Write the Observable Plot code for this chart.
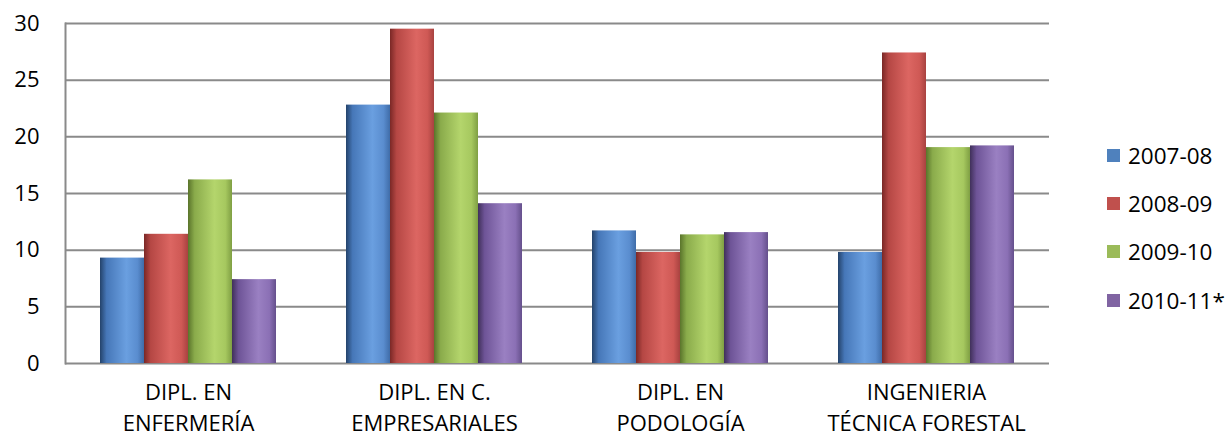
<!DOCTYPE html>
<html><head><meta charset="utf-8">
<script src="https://cdn.jsdelivr.net/npm/d3@7"></script>
<script src="https://cdn.jsdelivr.net/npm/@observablehq/plot@0.6"></script>
<style>
body{margin:0;background:#fff;font-family:"Open Sans",sans-serif;}
#wrap{position:relative;width:1229px;height:437px;overflow:hidden;}
#legend{position:absolute;left:1107px;top:131px;}
.item{display:flex;align-items:center;height:48.3px;font-size:22.5px;color:#000;}
.sw{width:13px;height:13px;margin-right:8px;flex:none;}
</style></head><body><div id="wrap"></div>
<script>
const categories = ["DIPL. EN\nENFERMERÍA", "DIPL. EN C.\nEMPRESARIALES", "DIPL. EN\nPODOLOGÍA", "INGENIERIA\nTÉCNICA FORESTAL"];
const series = ["2007-08", "2008-09", "2009-10", "2010-11*"];
const values2007 = [9.3, 22.8, 11.7, 9.8];
const values2008 = [11.4, 29.5, 9.8, 27.4];
const values2009 = [16.2, 22.1, 11.35, 19.05];
const values2010 = [7.4, 14.1, 11.55, 19.2];
const yTicks = [0, 5, 10, 15, 20, 25, 30];

const swatchColors = ["#4F81BD", "#C0504D", "#9BBB59", "#8064A2"];
const gradStops = [
  ["#24436b", "#4677b8", "#6a9fe0", "#5a8dcf", "#3f6ca8"],
  ["#7a2826", "#b54744", "#dc6662", "#cf5955", "#a84240"],
  ["#5a742b", "#8aab4b", "#b4d56c", "#a6c85f", "#7f9f43"],
  ["#40305a", "#6e5497", "#9a80c2", "#8b70b5", "#65508c"]
];

const seriesValues = [values2007, values2008, values2009, values2010];
const data = categories.flatMap((c, i) => series.map((s, j) => ({cat: c, ser: s, value: seriesValues[j][i]})));

const chart = Plot.plot({
  width: 1090,
  height: 437,
  marginLeft: 63,
  marginRight: 40,
  marginTop: 23,
  marginBottom: 74,
  style: {fontFamily: "'Open Sans', sans-serif", fontSize: "22px", color: "#000", background: "#fff", overflow: "visible"},
  fx: {domain: categories, paddingInner: 0, paddingOuter: 0, axis: null, label: null},
  x: {domain: series, paddingInner: 0, paddingOuter: 0.76, axis: null},
  y: {domain: [0, 30], axis: null},
  color: {domain: series, range: series.map((s, i) => `url(#grad${i})`)},
  marks: [
    Plot.gridY(yTicks, {stroke: "#8a8a8a", strokeOpacity: 1, strokeWidth: 2}),
    Plot.frame({anchor: "left", fx: () => categories[0], stroke: "#8a8a8a", strokeWidth: 2}),
    Plot.barY(data, {fx: "cat", x: "ser", y: "value", fill: "ser"}),
    Plot.axisY(yTicks, {tickSize: 0, tickPadding: 26, label: null, fontSize: 22}),
    Plot.axisFx({anchor: "bottom", tickSize: 0, tickPadding: 15, label: null, lineHeight: 1.4, fontSize: 22})
  ]
});

// gradients (cylindrical shading)
const ns = "http://www.w3.org/2000/svg";
const defs = document.createElementNS(ns, "defs");
gradStops.forEach((stops, i) => {
  const g = document.createElementNS(ns, "linearGradient");
  g.setAttribute("id", `grad${i}`);
  g.setAttribute("x1", "0"); g.setAttribute("x2", "1"); g.setAttribute("y1", "0"); g.setAttribute("y2", "0");
  [0, 0.15, 0.6, 0.85, 1].forEach((o, k) => {
    const st = document.createElementNS(ns, "stop");
    st.setAttribute("offset", o);
    st.setAttribute("stop-color", stops[k]);
    g.appendChild(st);
  });
  defs.appendChild(g);
});
chart.insertBefore(defs, chart.firstChild);

const wrap = document.getElementById("wrap");
wrap.appendChild(chart);

const legend = document.createElement("div");
legend.id = "legend";
series.forEach((s, i) => {
  const item = document.createElement("div");
  item.className = "item";
  const sw = document.createElement("span");
  sw.className = "sw";
  sw.style.background = swatchColors[i];
  const t = document.createElement("span");
  t.textContent = s;
  item.appendChild(sw);
  item.appendChild(t);
  legend.appendChild(item);
});
wrap.appendChild(legend);
</script>
</body></html>
